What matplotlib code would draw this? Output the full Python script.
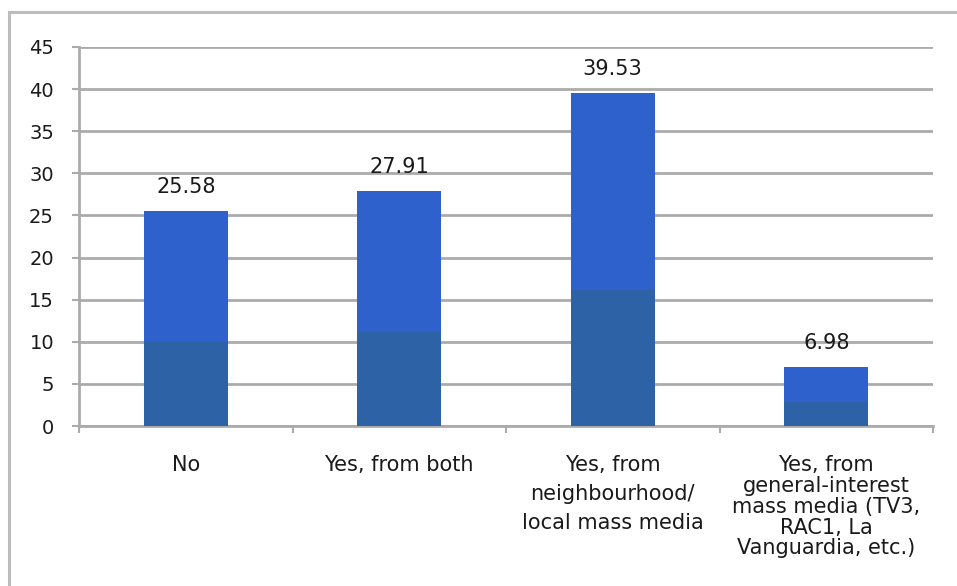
#!/usr/bin/env python3
"""
Bar chart: did respondents hear about it from the mass media?
Recreated from the published figure, saved as out.png.
"""

import matplotlib
matplotlib.use('Agg')
import matplotlib.pyplot as plt
from matplotlib.lines import Line2D

# Data
categories = [
    'No',
    'Yes, from both',
    'Yes, from\nneighbourhood/\nlocal mass media',
    'Yes, from\ngeneral-interest\nmass media (TV3,\nRAC1, La\nVanguardia, etc.)',
]
values = [25.58, 27.91, 39.53, 6.98]
# height of the darker lower band in each bar (shading of the original)
shade_heights = [10.0, 11.2, 16.1, 2.8]
y_ticks = [0, 5, 10, 15, 20, 25, 30, 35, 40, 45]

BAR_TOP = '#2E61CB'
BAR_LOW = '#2D62A6'
GRID = '#ABABAB'
TEXT = '#1A1A1A'


def draw_frame(fig):
    """Light gray border of the chart area (top and left visible)."""
    x0, y0 = 9 / 957, 1 - 12 / 586
    fig.add_artist(Line2D([x0, 1.0], [y0, y0], color='#BDBDBD', lw=2.2,
                          transform=fig.transFigure))
    fig.add_artist(Line2D([x0, x0], [0.0, y0], color='#BDBDBD', lw=2.2,
                          transform=fig.transFigure))


def main():
    plt.rcParams['font.family'] = ['DejaVu Sans']

    fig = plt.figure(figsize=(9.57, 5.86), dpi=100)
    ax = fig.add_axes([79 / 957, 1 - 426 / 586, (933 - 79) / 957, (426 - 47) / 586])

    x = list(range(len(categories)))
    ax.bar(x, values, width=0.395, color=BAR_TOP, zorder=3)
    ax.bar(x, shade_heights, width=0.395, color=BAR_LOW, zorder=3)

    for xi, v in zip(x, values):
        ax.annotate(f'{v:.2f}', (xi, v), xytext=(0, 10), textcoords='offset points',
                    ha='center', va='bottom', fontsize=15, color=TEXT)

    ax.set_xlim(-0.5, len(categories) - 0.5)
    ax.set_ylim(0, 45)
    ax.set_yticks(y_ticks)
    ax.grid(axis='y', color=GRID, lw=2.0, zorder=0)
    ax.set_axisbelow(True)

    for side in ('top', 'right'):
        ax.spines[side].set_visible(False)
    for side in ('left', 'bottom'):
        ax.spines[side].set_color(GRID)
        ax.spines[side].set_linewidth(2.0)

    ax.tick_params(axis='y', length=5, width=1.5, color=GRID, labelsize=14,
                   labelcolor=TEXT, pad=13)

    # category labels on major ticks, tick marks at the category boundaries
    ax.set_xticks(x)
    ax.set_xticklabels(categories)
    ax.tick_params(axis='x', which='major', length=0, labelsize=15,
                   labelcolor=TEXT, pad=21)
    ax.set_xticks([i - 0.5 for i in range(len(categories) + 1)], minor=True)
    ax.tick_params(axis='x', which='minor', length=5, width=1.5, color=GRID,
                   direction='out')

    labels = ax.get_xticklabels()
    labels[2].set_linespacing(1.55)
    labels[3].set_linespacing(1.05)

    draw_frame(fig)

    fig.savefig('out.png', dpi=100, facecolor='white')
    plt.close(fig)


if __name__ == '__main__':
    main()
